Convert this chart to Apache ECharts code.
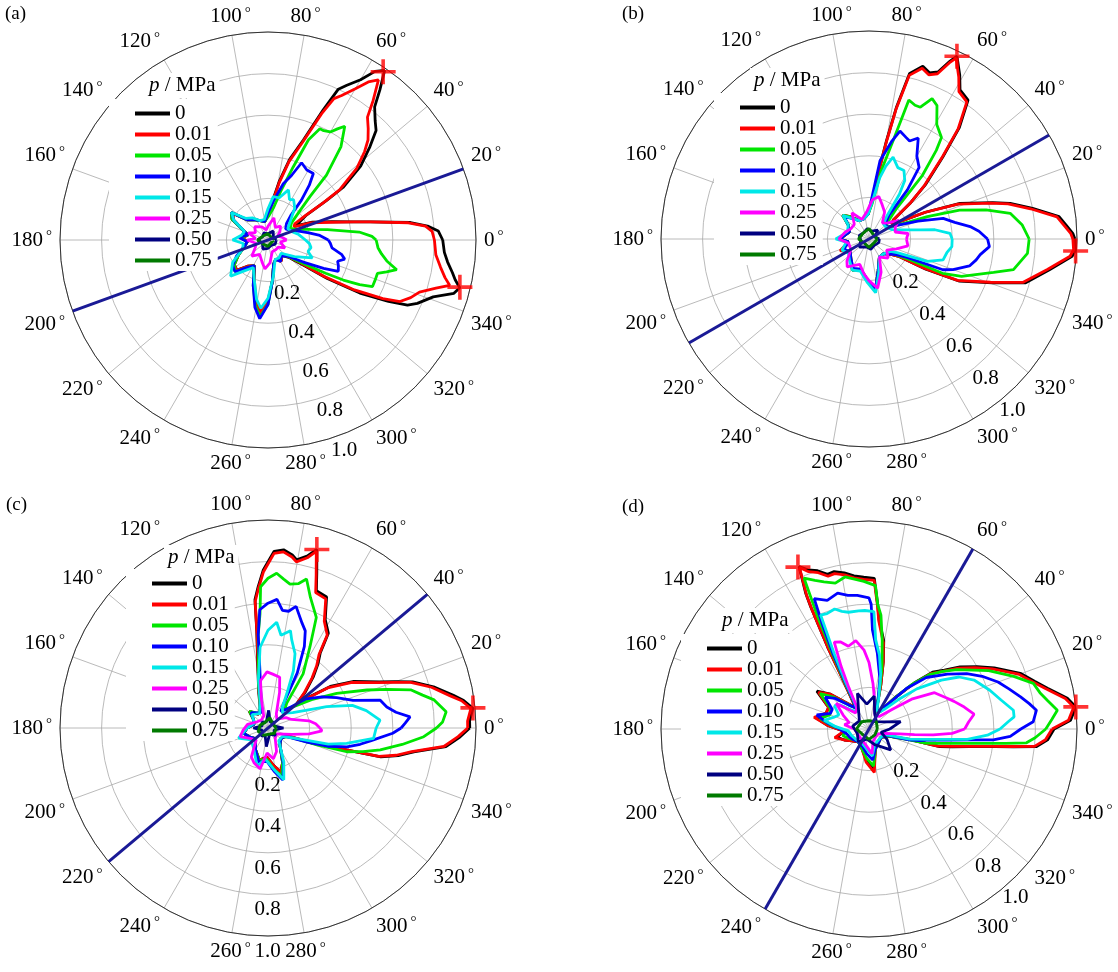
<!DOCTYPE html>
<html>
<head>
<meta charset="utf-8">
<script src="https://cdn.jsdelivr.net/npm/echarts@6/dist/echarts.min.js"></script>
<style>
  html, body { margin: 0; padding: 0; background: #fff; }
  #main { width: 1118px; height: 972px; }
</style>
</head>
<body>
<div id="main"></div>
<script>
// legend names and colours
var names = ['0', '0.01', '0.05', '0.10', '0.15', '0.25', '0.50', '0.75'];
var colors = ['#000000', '#ff0000', '#00e600', '#0000ff', '#00e8e8', '#ff00ff', '#000080', '#007a00'];

var radTicks = [0.2, 0.4, 0.6, 0.8, 1.0];
var radLabelAngle = [290, 310, 270, 311];   // direction of the radius labels per panel
var refAngles = [20, 30, 40, 60];           // dark blue reference line per panel

// each curve: [angle in degrees, normalized radius]
// ---------- (a) ----------
var a0 = [[0,.84],[3,.82],[5,.77],[7,.69],[10,.5],[12,.42],[16,.32],[22,.23],[27,.15],[31,.15],[33,.22],[34,.34],[35,.44],[38.6,.57],[42.5,.665],[45.4,.74],[48,.77],[51.3,.82],[53.3,.9],[55.5,.99],[57.6,.96],[60,.89],[63,.835],[65,.8],[67,.68],[70.5,.51],[75,.4],[79,.29],[84,.18],[90,.12],[100,.09],[112,.1],[125,.12],[136,.14],[143,.22],[150,.2],[158,.13],[166,.1],[175,.13],[185,.1],[196,.12],[207,.16],[216,.2],[224,.21],[232,.16],[242,.14],[252,.22],[259,.31],[264,.36],[270,.3],[276,.2],[283,.12],[292,.1],[302,.12],[312,.1],[320,.13],[325,.22],[327,.34],[330,.51],[333,.65],[335,.74],[337,.78],[341,.84],[344,.93],[346,.95],[348,.92],[350,.9],[353,.87],[356,.85],[360,.84]];
var a1 = [[0,.8],[3,.79],[5,.76],[7,.68],[10,.5],[12,.42],[16,.31],[22,.22],[27,.14],[31,.15],[33,.21],[34,.32],[35,.42],[39,.55],[42.5,.63],[45,.68],[48,.72],[51,.76],[53,.84],[55.4,.935],[57.6,.9],[60,.84],[63,.78],[65,.75],[67,.66],[70.5,.5],[75,.39],[79,.28],[84,.17],[90,.12],[100,.09],[112,.1],[125,.12],[136,.14],[143,.21],[150,.19],[158,.13],[166,.1],[175,.12],[185,.1],[196,.12],[207,.16],[216,.2],[224,.21],[232,.16],[242,.14],[252,.21],[259,.3],[264,.35],[270,.29],[276,.2],[283,.12],[292,.1],[302,.12],[312,.1],[320,.12],[325,.2],[327,.32],[330,.48],[333,.62],[335,.7],[338,.74],[341,.77],[344,.84],[346,.9],[348,.87],[351,.84],[355,.81],[360,.8]];
var a2 = [[0,.52],[2,.5],[5,.44],[10,.29],[14,.21],[20,.15],[28,.12],[36,.14],[42,.2],[46,.29],[48,.42],[52,.57],[56,.66],[58,.63],[60,.6],[63,.59],[65,.59],[68,.52],[71,.37],[75,.25],[80,.16],[87,.12],[100,.09],[112,.1],[125,.12],[136,.14],[143,.22],[150,.2],[158,.13],[166,.1],[175,.13],[185,.1],[196,.12],[207,.16],[216,.2],[224,.22],[232,.17],[242,.14],[252,.23],[259,.32],[264,.37],[270,.31],[276,.2],[283,.12],[292,.1],[302,.11],[312,.1],[320,.12],[326,.2],[330,.32],[332,.41],[334,.49],[336,.55],[340,.55],[343,.55],[345,.59],[347,.635],[350,.58],[353,.55],[356,.53],[360,.52]];
var a3 = [[0,.29],[5,.25],[10,.2],[15,.16],[22,.12],[32,.1],[42,.12],[47,.16],[50,.25],[53,.33],[55.7,.387],[61,.385],[66.5,.405],[70,.33],[74.8,.28],[82,.19],[90,.13],[100,.09],[112,.1],[125,.12],[136,.14],[143,.22],[150,.19],[158,.13],[166,.1],[175,.14],[185,.1],[196,.12],[207,.17],[216,.21],[224,.22],[232,.17],[242,.14],[252,.23],[259,.33],[264,.38],[270,.31],[276,.2],[283,.12],[292,.1],[300,.12],[310,.1],[320,.12],[328,.2],[333,.3],[336,.37],[340,.36],[343,.35],[346,.38],[349,.36],[353,.31],[357,.3],[360,.29]];
var a4 = [[0,.18],[10,.15],[20,.12],[30,.11],[40,.14],[50,.2],[57.6,.23],[62,.22],[67.8,.26],[75,.21],[83,.21],[90,.15],[100,.1],[112,.1],[125,.13],[136,.15],[143,.22],[150,.19],[160,.12],[170,.13],[180,.17],[188,.12],[200,.13],[212,.2],[224,.25],[232,.19],[242,.15],[252,.21],[259,.29],[264,.33],[270,.28],[278,.18],[290,.1],[302,.1],[315,.09],[328,.15],[338,.23],[344,.2],[350,.21],[355,.2],[360,.18]];
var a5 = [[0,.09],[10,.07],[22,.05],[35,.07],[48,.09],[60,.07],[75,.11],[88,.07],[100,.05],[115,.07],[135,.09],[150,.07],[160,.1],[172,.06],[180,.1],[195,.06],[210,.07],[225,.11],[240,.08],[255,.11],[264,.14],[275,.11],[290,.06],[310,.06],[325,.06],[335,.09],[350,.06],[360,.09]];
var a6 = [[0,.04],[30,.03],[60,.05],[90,.03],[120,.04],[150,.03],[180,.05],[210,.03],[240,.05],[270,.04],[300,.03],[330,.04],[360,.04]];
var a7 = [[0,.03],[45,.02],[90,.03],[135,.03],[180,.05],[225,.03],[270,.03],[315,.02],[360,.03]];

// ---------- (b) ----------
var b0 = [[0,.99],[1.6,.98],[4,.95],[6.7,.92],[10.6,.8],[14.2,.7],[16.4,.62],[21.4,.47],[25.4,.3],[29,.18],[33,.13],[38,.15],[41,.26],[44,.38],[48,.53],[51,.69],[54.5,.82],[58.6,.84],[61,.9],[64.3,.975],[65.5,.94],[67.5,.87],[70,.85],[72.7,.87],[76.2,.82],[78.2,.65],[79.9,.48],[82.5,.3],[86,.17],[92,.12],[105,.1],[118,.1],[130,.14],[138,.17],[146,.12],[160,.1],[172,.12],[180,.14],[188,.1],[202,.14],[215,.11],[228,.13],[242,.17],[255,.15],[268,.2],[277,.25],[286,.16],[300,.1],[315,.1],[325,.13],[330,.17],[332,.31],[335,.48],[340.4,.63],[344.3,.78],[350.3,.88],[355.1,.98],[357,.995],[360,.99]];
var b1 = [[0,.98],[1.6,.97],[4,.94],[6.7,.91],[10.6,.79],[14.2,.69],[16.4,.61],[21.4,.46],[25.4,.3],[29,.18],[33,.13],[38,.15],[41,.26],[44,.37],[48,.52],[51,.68],[54.5,.81],[58.6,.83],[61,.89],[64.3,.965],[65.5,.93],[67.5,.86],[70,.84],[72.7,.86],[76.2,.81],[78.2,.64],[79.9,.47],[82.5,.3],[86,.17],[92,.12],[105,.1],[118,.1],[130,.14],[138,.17],[146,.12],[160,.1],[172,.12],[180,.14],[188,.1],[202,.15],[215,.11],[228,.13],[242,.17],[255,.15],[268,.2],[277,.25],[286,.16],[300,.1],[315,.1],[325,.13],[330,.17],[332,.3],[335,.47],[340.4,.62],[344.3,.77],[350.3,.87],[355.1,.97],[357,.985],[360,.98]];
var b2 = [[0,.77],[5.2,.74],[10.3,.69],[14,.58],[17.7,.457],[21,.3],[23,.21],[28,.13],[35,.1],[42,.12],[48,.2],[50,.4],[52.8,.535],[54.5,.6],[59.4,.64],[63,.72],[65.8,.74],[68.7,.68],[71,.68],[74,.695],[76,.5],[80,.33],[85,.17],[92,.12],[105,.1],[118,.1],[130,.14],[138,.17],[146,.12],[160,.1],[172,.12],[180,.14],[188,.1],[202,.14],[215,.11],[228,.13],[242,.17],[255,.15],[268,.2],[277,.25],[286,.16],[300,.1],[315,.1],[328,.13],[333,.22],[335,.39],[338,.48],[341.5,.54],[345,.62],[348,.71],[352,.74],[354.8,.765],[360,.77]];
var b3 = [[0,.57],[4,.53],[7,.49],[11,.42],[15.5,.37],[20,.25],[26,.15],[35,.1],[44,.11],[50,.15],[52,.3],[55,.42],[60,.46],[64,.54],[67.5,.51],[70,.52],[74,.54],[77,.48],[82,.38],[86,.2],[92,.12],[105,.1],[118,.1],[130,.13],[138,.16],[146,.12],[160,.1],[172,.12],[180,.14],[188,.1],[202,.13],[215,.11],[228,.13],[242,.16],[255,.15],[268,.2],[277,.25],[286,.16],[300,.1],[315,.1],[330,.15],[334,.2],[337.4,.385],[340,.43],[345,.5],[349,.525],[352,.54],[356.4,.58],[360,.57]];
var b4 = [[0,.4],[4,.39],[8,.32],[10,.25],[15,.17],[22,.12],[35,.1],[46,.1],[52,.14],[55.8,.26],[58.6,.33],[63,.37],[68,.37],[73.6,.41],[77,.36],[80,.3],[85,.18],[92,.12],[105,.1],[118,.1],[130,.13],[138,.17],[146,.12],[160,.11],[172,.13],[180,.16],[188,.11],[202,.14],[215,.12],[228,.14],[242,.17],[255,.16],[268,.21],[277,.26],[286,.17],[300,.1],[315,.1],[330,.12],[334,.15],[339,.3],[344.3,.37],[350,.38],[354.7,.4],[360,.4]];
var b5 = [[0,.18],[8,.19],[15,.13],[25,.14],[32,.17],[40,.12],[50,.1],[60,.15],[70,.18],[77,.21],[85,.19],[95,.13],[110,.1],[123,.15],[135,.1],[150,.1],[165,.12],[180,.145],[192,.1],[210,.1],[225,.15],[232,.17],[250,.13],[262,.17],[270,.2],[280,.24],[290,.17],[300,.1],[315,.13],[328,.1],[340,.14],[350,.19],[360,.18]];
var b6 = [[0,.05],[20,.03],[45,.06],[70,.04],[100,.05],[135,.04],[160,.05],[190,.04],[220,.06],[250,.04],[280,.05],[310,.04],[340,.05],[360,.05]];
var b7 = [[0,.04],[45,.03],[90,.05],[135,.04],[180,.05],[225,.03],[270,.04],[315,.03],[360,.04]];

// ---------- (c) ----------
var c0 = [[0,.97],[2,.97],[5.5,.99],[8,.95],[10,.905],[14,.82],[17.7,.73],[20,.65],[22.5,.58],[28.5,.47],[33.7,.36],[37,.25],[40,.18],[44,.25],[48.6,.33],[52,.39],[55.2,.44],[57.5,.54],[62.2,.59],[65.9,.69],[70.6,.7],[72.5,.78],[74.7,.89],[77,.85],[80.3,.82],[82,.84],[85,.86],[88,.85],[91.7,.76],[94,.68],[95.8,.62],[96.6,.47],[100,.28],[105,.17],[112,.1],[125,.08],[138,.12],[150,.08],[165,.07],[180,.1],[192,.12],[205,.1],[220,.08],[240,.12],[255,.16],[268,.14],[278,.18],[286,.22],[293,.18],[305,.1],[320,.08],[332,.09],[338.4,.11],[341.3,.23],[344.4,.39],[345.6,.56],[348,.64],[350.7,.71],[354,.86],[357.4,.925],[360,.97]];
var c1 = [[0,.96],[2,.96],[5.5,.98],[8,.94],[10,.89],[14,.81],[17.7,.72],[20,.64],[22.5,.57],[28.5,.46],[33.7,.35],[37,.24],[40,.18],[44,.24],[48.6,.32],[52,.38],[55.2,.43],[57.5,.53],[62.2,.58],[65.9,.68],[70.6,.69],[72.5,.77],[74.7,.88],[77,.84],[80.3,.81],[82,.83],[85,.85],[88,.84],[91.7,.75],[94,.67],[95.8,.61],[96.6,.46],[100,.27],[105,.16],[112,.1],[125,.08],[138,.12],[150,.08],[165,.07],[180,.1],[192,.12],[205,.1],[220,.08],[240,.12],[255,.16],[268,.14],[278,.18],[286,.22],[293,.18],[305,.1],[320,.08],[332,.09],[338.4,.11],[341.3,.22],[344.4,.38],[345.6,.55],[348,.63],[350.7,.7],[354,.85],[357.4,.915],[360,.96]];
var c2 = [[0,.81],[2,.84],[5.2,.86],[9.6,.81],[12,.76],[15,.71],[18,.6],[21,.51],[26.8,.37],[33,.25],[40,.16],[48,.12],[53,.15],[57,.31],[62.7,.44],[66.4,.58],[72,.66],[75.5,.74],[78,.71],[81.3,.7],[84,.72],[86.8,.745],[90,.72],[93,.68],[94,.55],[96,.45],[98,.33],[102,.22],[108,.12],[120,.08],[138,.12],[150,.08],[165,.07],[180,.1],[192,.12],[205,.1],[220,.08],[240,.12],[255,.16],[268,.15],[278,.2],[286,.24],[293,.18],[305,.1],[320,.08],[333,.09],[338,.12],[341,.25],[343.2,.395],[346,.47],[349,.55],[353,.65],[356.8,.75],[360,.81]];
var c3 = [[0,.64],[2,.66],[4.5,.685],[7,.62],[10,.58],[14,.555],[18,.43],[24,.36],[30,.3],[37.5,.23],[45,.13],[52,.1],[58,.15],[62,.3],[66,.43],[69,.5],[72,.53],[77,.6],[80,.57],[83,.57],[86,.62],[90,.6],[94,.57],[96,.45],[98,.28],[103,.15],[115,.08],[138,.11],[150,.08],[165,.07],[180,.1],[192,.12],[205,.1],[220,.08],[240,.12],[255,.17],[268,.16],[278,.21],[286,.26],[293,.19],[305,.1],[320,.08],[334,.09],[340,.2],[343,.3],[346.6,.39],[350,.45],[353,.5],[357.6,.6],[360,.64]];
var c4 = [[0,.52],[4,.54],[10,.48],[15,.42],[20,.3],[25,.2],[32,.14],[45,.1],[55,.12],[62,.2],[66,.3],[70,.38],[75,.44],[77,.48],[82,.45],[85.3,.51],[90,.47],[95.6,.39],[101,.24],[106,.14],[120,.08],[140,.1],[160,.07],[180,.1],[199,.15],[215,.1],[235,.12],[254,.19],[265,.15],[278,.2],[287,.26],[295,.18],[310,.08],[330,.08],[340,.15],[345,.3],[349,.385],[354.4,.51],[360,.52]];
var c5 = [[0,.25],[5,.23],[10,.2],[20,.12],[30,.1],[45,.06],[60,.08],[72,.18],[77,.25],[85,.26],[91,.27],[99,.23],[103,.14],[110,.06],[130,.05],[150,.06],[170,.1],[185,.12],[197,.14],[210,.1],[225,.08],[240,.16],[248,.18],[259,.2],[268,.12],[280,.15],[290,.12],[305,.06],[325,.05],[345,.12],[352,.2],[357,.26],[360,.25]];
var c6 = [[0,.075],[20,.03],[45,.04],[70,.03],[88,.085],[105,.03],[135,.04],[160,.03],[180,.07],[200,.03],[230,.05],[250,.04],[265,.09],[285,.03],[315,.05],[340,.03],[360,.075]];
var c7 = [[0,.04],[40,.03],[80,.05],[120,.03],[160,.04],[200,.05],[240,.04],[280,.03],[320,.04],[360,.04]];

// ---------- (d) ----------
var d0 = [[0,.89],[2.5,.97],[6.1,1.0],[8.8,.965],[12.9,.88],[16,.83],[20.2,.775],[26,.67],[30,.6],[34.3,.53],[38,.46],[41.8,.41],[45.5,.31],[50,.2],[58,.1],[65,.09],[70,.11],[75,.22],[78,.33],[80.5,.43],[84.8,.53],[86,.6],[88,.725],[92,.73],[95.6,.74],[99,.76],[102.5,.775],[105,.77],[108,.8],[111,.82],[113.3,.85],[115,.72],[115.5,.65],[116.8,.44],[117.5,.3],[119,.2],[122,.12],[130,.16],[138,.25],[144,.31],[152,.22],[160,.22],[168,.26],[175,.2],[185,.12],[194,.16],[204,.13],[215,.1],[230,.08],[250,.1],[265,.15],[277,.19],[288,.1],[305,.08],[325,.07],[340,.1],[345.5,.2],[346,.35],[348,.41],[350,.49],[352,.61],[353,.7],[354,.81],[356.5,.86],[360,.89]];
var d1 = [[0,.88],[2.5,.96],[6.1,.99],[8.8,.955],[12.9,.87],[16,.82],[20.2,.765],[26,.66],[30,.59],[34.3,.52],[38,.45],[41.8,.4],[45.5,.3],[50,.2],[58,.1],[65,.09],[70,.11],[75,.22],[78,.33],[80.5,.42],[84.8,.52],[86,.59],[88,.715],[92,.72],[95.6,.73],[99,.75],[102.5,.765],[105,.76],[108,.79],[111,.81],[113.3,.845],[115,.71],[115.5,.64],[116.8,.43],[117.5,.3],[119,.2],[122,.12],[130,.16],[138,.25],[144,.3],[152,.22],[160,.22],[168,.27],[175,.2],[185,.12],[194,.17],[204,.13],[215,.1],[230,.08],[250,.1],[265,.16],[277,.21],[288,.1],[305,.08],[325,.07],[340,.1],[345.5,.2],[346,.34],[348,.4],[350,.48],[352,.6],[353,.69],[354,.8],[356.5,.85],[360,.88]];
var d2 = [[0,.85],[3,.88],[5.7,.91],[9,.87],[12,.84],[15.5,.82],[20,.74],[26,.64],[34,.51],[38,.45],[42,.39],[46,.3],[50,.2],[58,.1],[65,.09],[70,.1],[75,.2],[78,.3],[81.5,.43],[84,.55],[86,.6],[87.4,.69],[92,.71],[99,.74],[103,.72],[107,.74],[110,.76],[113.3,.79],[114.5,.6],[116,.4],[117.5,.25],[119,.17],[122,.12],[130,.15],[138,.23],[144,.29],[152,.21],[160,.2],[168,.24],[175,.18],[185,.11],[194,.13],[204,.11],[215,.09],[230,.08],[250,.1],[265,.14],[277,.18],[288,.1],[305,.08],[325,.07],[340,.1],[345,.2],[346,.28],[348,.33],[350,.4],[352,.5],[354,.66],[355,.76],[357,.8],[360,.85]];
var d3 = [[0,.73],[2.5,.79],[6.4,.81],[9,.78],[12,.745],[16,.7],[20,.66],[25,.6],[29.5,.54],[35,.46],[42,.37],[47,.27],[52,.16],[60,.1],[68,.1],[73,.15],[78,.25],[83.7,.366],[88,.476],[89,.6],[90,.63],[95,.645],[99,.65],[103,.67],[108,.65],[112.8,.68],[114,.55],[115.5,.4],[117,.25],[119,.16],[122,.12],[130,.15],[138,.22],[144,.26],[152,.2],[158,.2],[165,.26],[172,.2],[180,.14],[192,.11],[204,.1],[215,.09],[230,.08],[250,.09],[265,.12],[277,.15],[288,.1],[305,.08],[325,.07],[340,.09],[345,.2],[347,.25],[350,.3],[352,.38],[354,.5],[355,.6],[357,.68],[360,.73]];
var d4 = [[0,.63],[3,.67],[4.8,.7],[7.4,.7],[12.4,.65],[17.8,.61],[25,.557],[30,.5],[34,.42],[40,.3],[45,.2],[52,.12],[60,.09],[68,.1],[72,.15],[78,.27],[82,.36],[85.7,.43],[87.6,.565],[92,.57],[95,.57],[100,.57],[103,.58],[106,.6],[110,.59],[113,.595],[114.8,.4],[116.5,.25],[118,.16],[122,.1],[132,.12],[140,.18],[146,.2],[155,.16],[162,.18],[169,.22],[176,.16],[185,.1],[200,.09],[220,.08],[250,.08],[265,.1],[277,.13],[290,.08],[310,.07],[330,.07],[342,.09],[346,.2],[350,.29],[352,.36],[354,.475],[357,.57],[360,.63]];
var d5 = [[0,.46],[4,.48],[8,.51],[13,.47],[18,.43],[22,.4],[29,.36],[35,.25],[40,.15],[50,.08],[65,.07],[75,.1],[80,.15],[85,.22],[90,.32],[93.6,.38],[98.5,.43],[104,.41],[108,.44],[111.8,.45],[114,.33],[116,.22],[119,.12],[130,.1],[142,.2],[152,.14],[162,.1],[170,.12],[180,.07],[200,.06],[230,.06],[260,.08],[277,.12],[290,.06],[310,.05],[330,.05],[345,.08],[351,.15],[353,.22],[354.7,.31],[357,.4],[360,.46]];
var d6 = [[0,.1],[13,.156],[25,.08],[45,.05],[70,.08],[81,.16],[95,.12],[108,.18],[120,.1],[140,.06],[170,.08],[200,.06],[230,.08],[260,.05],[290,.08],[316,.145],[330,.1],[345,.06],[360,.1]];
var d7 = [[0,.04],[45,.05],[90,.04],[135,.05],[180,.06],[225,.04],[270,.05],[315,.04],[360,.04]];

// red "+" markers at the maxima: [angle, radius]
var markA = [[55.6,.98],[346.2,.95]];
var markB = [[64.3,.975],[356.7,.995]];
var markC = [[74.7,.89],[5.6,.99]];
var markD = [[113.7,.85],[6.1,1.0]];

var FONT = '"Liberation Serif", "DejaVu Serif", serif';
var FS = 21;
var centers = [[268, 240], [869, 239], [268, 728], [869, 729]];
var panelSets = [[a0,a1,a2,a3,a4,a5,a6,a7],[b0,b1,b2,b3,b4,b5,b6,b7],[c0,c1,c2,c3,c4,c5,c6,c7],[d0,d1,d2,d3,d4,d5,d6,d7]];
var marks = [markA, markB, markC, markD];
var letters = ['(a)', '(b)', '(c)', '(d)'];
var letterPos = [[5, 5], [622, 5], [6, 496], [622, 498]];
var legendPos = [[109, 99], [714, 93], [126, 569], [681, 634]];
var titlePos = [[145, 73], [750, 68], [164, 545], [718, 608]];

var plusPath = 'path://M9,0h3v9h9v3h-9v9h-3v-9h-9v-3h9z';

var chart = echarts.init(document.getElementById('main'));

var polar = [], angleAxis = [], radiusAxis = [], series = [], legend = [], title = [];

centers.forEach(function (c, p) {
  polar.push({ center: c, radius: 208 });
  angleAxis.push({
    polarIndex: p, type: 'value', min: 0, max: 360, interval: 20,
    startAngle: 0, clockwise: false,
    axisLine: { lineStyle: { color: '#333', width: 1 } },
    axisTick: { show: false },
    splitLine: { show: true, lineStyle: { color: '#a8a8a8', width: 0.8 } },
    axisLabel: {
      margin: 8, color: '#000', fontFamily: FONT, fontSize: FS,
      formatter: function (v) { return v === 360 ? '' : '{n|' + v + '}{d|°}'; },
      rich: {
        n: { fontFamily: FONT, fontSize: FS, color: '#000', lineHeight: 22 },
        d: { fontFamily: FONT, fontSize: 15, color: '#000', verticalAlign: 'top', lineHeight: 22, padding: [0, 0, 0, 3] }
      }
    }
  });
  radiusAxis.push({
    polarIndex: p, type: 'value', min: 0, max: 1, interval: 0.2,
    axisLine: { show: false }, axisTick: { show: false }, axisLabel: { show: false },
    splitLine: { show: true, lineStyle: { color: '#a8a8a8', width: 0.8 } }
  });

  panelSets[p].forEach(function (pts, k) {
    series.push({
      type: 'line', name: names[k], coordinateSystem: 'polar', polarIndex: p,
      data: pts.map(function (q) { return [q[1], q[0]]; }),
      symbol: 'none', silent: true,
      lineStyle: { color: colors[k], width: k === 7 ? 3 : 2.8 },
      itemStyle: { color: colors[k] }
    });
  });

  // reference line through the centre
  var ra = refAngles[p];
  series.push({
    type: 'line', coordinateSystem: 'polar', polarIndex: p,
    data: [[1, ra], [1, ra + 180]], symbol: 'none', silent: true,
    lineStyle: { color: '#1a1a96', width: 3 }
  });

  // red plus markers
  series.push({
    type: 'scatter', coordinateSystem: 'polar', polarIndex: p,
    data: marks[p].map(function (q) { return [q[1], q[0]]; }),
    symbol: plusPath, symbolSize: 25, silent: true,
    itemStyle: { color: '#ff0000' }, z: 5
  });

  // radius tick labels
  var la = radLabelAngle[p] * Math.PI / 180;
  series.push({
    type: 'scatter', coordinateSystem: 'polar', polarIndex: p,
    data: radTicks.map(function (v) { return [v, radLabelAngle[p]]; }),
    symbolSize: 1, silent: true, itemStyle: { color: '#000', opacity: 0 },
    label: {
      show: true, position: [16 * Math.cos(la), -16 * Math.sin(la)],
      align: 'center', verticalAlign: 'middle',
      formatter: function (d) { return d.value[0].toFixed(1); },
      color: '#000', opacity: 1, textBorderWidth: 0,
      fontFamily: FONT, fontSize: FS
    },
    z: 5
  });

  legend.push({
    data: names, orient: 'vertical', left: legendPos[p][0], top: legendPos[p][1],
    icon: 'rect', itemWidth: 35, itemHeight: 4, itemGap: 0,
    padding: [4, 6, 0, 26], backgroundColor: '#fff', selectedMode: false,
    textStyle: { color: '#000', fontFamily: FONT, fontSize: FS, lineHeight: 19 }
  });

  title.push({
    text: '{i|p} / MPa', left: titlePos[p][0], top: titlePos[p][1], padding: [2, 4],
    backgroundColor: '#fff',
    textStyle: {
      color: '#000', fontFamily: FONT, fontSize: FS, fontWeight: 'normal',
      rich: { i: { fontStyle: 'italic', fontFamily: FONT, fontSize: FS, color: '#000' } }
    }
  });
  title.push({
    text: letters[p], left: letterPos[p][0], top: letterPos[p][1], padding: 0,
    textStyle: { color: '#000', fontFamily: FONT, fontSize: 19, fontWeight: 'normal' }
  });
});

chart.setOption({
  animation: false,
  backgroundColor: '#fff',
  title: title,
  legend: legend,
  polar: polar,
  angleAxis: angleAxis,
  radiusAxis: radiusAxis,
  series: series
});
</script>
</body>
</html>
